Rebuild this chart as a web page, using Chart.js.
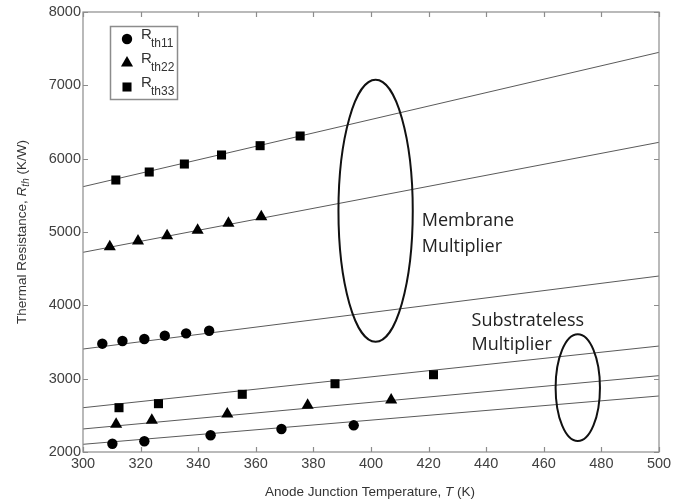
<!DOCTYPE html>
<html><head><meta charset="utf-8">
<script src="https://cdn.jsdelivr.net/npm/chart.js@4.4.1/dist/chart.umd.min.js"></script>
<style>html,body{margin:0;padding:0;background:#fff}#wrap{width:694px;height:502px;position:relative}</style>
</head><body><div id="wrap"><canvas id="c" width="694" height="502"></canvas></div>
<script>
// ---- data ----
const xTicks = [300,320,340,360,380,400,420,440,460,480,500];
const yTicks = [2000,3000,4000,5000,6000,7000,8000];
const seriesNames = ['th11','th22','th33'];
// Membrane multiplier
const memT11 = [306.7,313.7,321.3,328.4,335.8,343.8];
const memR11 = [3477,3514,3541,3586,3618,3654];
const memT22 = [309.3,319.1,329.2,339.8,350.5,361.9];
const memR22 = [4800,4877,4950,5023,5118,5209];
const memT33 = [311.4,323.0,335.2,348.1,361.5,375.4];
const memR33 = [5709,5818,5927,6050,6177,6309];
// Substrateless multiplier
const subT11 = [310.2,321.3,344.3,368.9,394.0];
const subR11 = [2113,2146,2228,2314,2364];
const subT22 = [311.5,323.9,350.1,378.0,407.0];
const subR22 = [2378,2432,2518,2637,2709];
const subT33 = [312.5,326.2,355.3,387.5,421.7];
const subR33 = [2604,2659,2787,2931,3054];
// Fit lines (ends at T = 300 and 500)
const fitT = [300,500];
const fitMem11 = [3404,4400];
const fitMem22 = [4723,6223];
const fitMem33 = [5618,7450];
const fitSub11 = [2105,2764];
const fitSub22 = [2314,3041];
const fitSub33 = [2604,3445];
// Annotations (data coords)
const ellipses = [
  {cx:401.6, cy:5289, rx:12.9, ry:1786},
  {cx:471.8, cy:2877, rx:7.7, ry:727}
];
const labels = [
  {x:417.6, y:[5154,4800], lines:['Membrane','Multiplier']},
  {x:434.9, y:[3790,3459], lines:['Substrateless','Multiplier']}
];

const pts = (xs, ys) => xs.map((x,i)=>({x:x, y:ys[i]}));
const markerDs = (xs, ys, style, r) => ({data:pts(xs,ys), pointStyle:style, pointRadius:r, pointHoverRadius:r,
  backgroundColor:'#000', borderColor:'#000', borderWidth:0, showLine:false});
const lineDs = (ys) => ({data:pts(fitT,ys), showLine:true, pointRadius:0, borderColor:'#5a5a5a', borderWidth:1, fill:false});

const L = {left:83, right:659, top:12, bottom:452};
const R_CIRC = 5.2, R_TRI = 7, R_RECT = 6.4;

const decor = {
  id:'decor',
  afterDraw(chart){
    const ctx = chart.ctx, xs = chart.scales.x, ys = chart.scales.y;
    const a = chart.chartArea;
    ctx.save();
    // frame
    ctx.strokeStyle = '#8c8c8c'; ctx.lineWidth = 1.2;
    ctx.strokeRect(a.left, a.top, a.right-a.left, a.bottom-a.top);
    // inward ticks
    ctx.beginPath();
    xTicks.forEach(v=>{const p=Math.round(xs.getPixelForValue(v))+0.5;
      ctx.moveTo(p,a.bottom); ctx.lineTo(p,a.bottom-5); ctx.moveTo(p,a.top); ctx.lineTo(p,a.top+5);});
    yTicks.forEach(v=>{const p=Math.round(ys.getPixelForValue(v))+0.5;
      ctx.moveTo(a.left,p); ctx.lineTo(a.left+5,p); ctx.moveTo(a.right,p); ctx.lineTo(a.right-5,p);});
    ctx.stroke();
    // ellipses
    ctx.strokeStyle = '#111'; ctx.lineWidth = 2;
    ellipses.forEach(e=>{
      const cx = xs.getPixelForValue(e.cx), cy = ys.getPixelForValue(e.cy);
      const rx = Math.abs(xs.getPixelForValue(e.cx+e.rx)-cx), ry = Math.abs(ys.getPixelForValue(e.cy+e.ry)-cy);
      ctx.beginPath(); ctx.ellipse(cx,cy,rx,ry,0,0,Math.PI*2); ctx.stroke();
    });
    // annotation labels
    ctx.fillStyle = '#222'; ctx.font = '18px "Open Sans", sans-serif';
    ctx.textAlign='left'; ctx.textBaseline='middle';
    labels.forEach(l=>{ l.lines.forEach((t,i)=>ctx.fillText(t, xs.getPixelForValue(l.x), ys.getPixelForValue(l.y[i]))); });
    // legend
    ctx.strokeStyle = '#8c8c8c'; ctx.lineWidth = 1.5;
    ctx.strokeRect(110.5, 26.5, 67, 73);
    const ly = [39, 63, 87];
    const styles = ['circle','triangle','rect'];
    const radii = [R_CIRC, R_TRI, R_RECT];
    ly.forEach((y,i)=>{
      ctx.fillStyle = '#000'; ctx.strokeStyle='#000';
      Chart.helpers.drawPoint(ctx, {pointStyle:styles[i], radius:radii[i], borderWidth:0}, 127, y);
      ctx.fillStyle = '#333';
      ctx.font = '15px "Liberation Sans", Arial, sans-serif';
      ctx.textAlign='left'; ctx.textBaseline='middle';
      ctx.fillText('R', 141, y-4);
      ctx.font = '12px "Liberation Sans", Arial, sans-serif';
      ctx.fillText(seriesNames[i], 151, y+5);
    });
    // x-axis title
    ctx.fillStyle = '#333';
    const f1 = '13.5px "Liberation Sans", Arial, sans-serif', f1i = 'italic 13.5px "Liberation Sans", Arial, sans-serif';
    const parts = [['Anode Junction Temperature, ',f1],['T',f1i],[' (K)',f1]];
    let w=0; parts.forEach(p=>{ctx.font=p[1]; w+=ctx.measureText(p[0]).width;});
    let x = 370 - w/2; ctx.textBaseline='middle';
    parts.forEach(p=>{ctx.font=p[1]; ctx.fillText(p[0], x, 492); x+=ctx.measureText(p[0]).width;});
    // y-axis title
    ctx.save(); ctx.translate(22, 232); ctx.rotate(-Math.PI/2);
    const fs = 'italic 10px "Liberation Sans", Arial, sans-serif';
    const yparts = [['Thermal Resistance, ',f1,0],['R',f1i,0],['th',fs,4],[' (K/W)',f1,0]];
    w=0; yparts.forEach(p=>{ctx.font=p[1]; w+=ctx.measureText(p[0]).width;});
    x = -w/2;
    yparts.forEach(p=>{ctx.font=p[1]; ctx.fillText(p[0], x, p[2]); x+=ctx.measureText(p[0]).width;});
    ctx.restore();
    ctx.restore();
  }
};

new Chart(document.getElementById('c'), {
  type:'scatter',
  data:{datasets:[
    markerDs(memT11,memR11,'circle',R_CIRC),
    markerDs(memT22,memR22,'triangle',R_TRI),
    markerDs(memT33,memR33,'rect',R_RECT),
    markerDs(subT11,subR11,'circle',R_CIRC),
    markerDs(subT22,subR22,'triangle',R_TRI),
    markerDs(subT33,subR33,'rect',R_RECT),
    lineDs(fitMem11), lineDs(fitMem22), lineDs(fitMem33),
    lineDs(fitSub11), lineDs(fitSub22), lineDs(fitSub33)
  ]},
  options:{
    responsive:false, animation:false, devicePixelRatio:1,
    layout:{padding:{left:0, right:694-L.right, top:L.top, bottom:0}},
    plugins:{legend:{display:false}, tooltip:{enabled:false}},
    scales:{
      x:{type:'linear', min:300, max:500,
        afterBuildTicks:s=>{s.ticks = xTicks.map(v=>({value:v}));},
        afterFit:s=>{s.height = 502-L.bottom;},
        grid:{display:false, drawTicks:false}, border:{display:false},
        ticks:{padding:3, color:'#404040', font:{family:'"Liberation Sans", Arial, sans-serif', size:14.5}, maxRotation:0, autoSkip:false, callback:v=>String(v)}},
      y:{type:'linear', min:2000, max:8000,
        afterBuildTicks:s=>{s.ticks = yTicks.map(v=>({value:v}));},
        afterFit:s=>{s.width = L.left;},
        grid:{display:false, drawTicks:false}, border:{display:false},
        ticks:{padding:2, color:'#404040', font:{family:'"Liberation Sans", Arial, sans-serif', size:14.5}, autoSkip:false, callback:v=>String(v)}}
    }
  },
  plugins:[decor]
});
</script></body></html>
